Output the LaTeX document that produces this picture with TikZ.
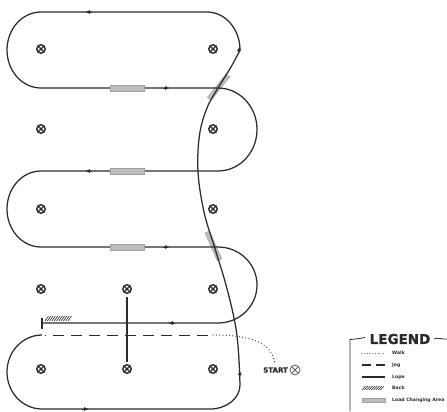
\documentclass[tikz,border=0pt]{standalone}
\usepackage{fontspec}
\setmainfont{DejaVu Sans}
\newfontfamily\heavyfont[FakeBold=1.2]{DejaVu Sans Bold}
\usetikzlibrary{arrows.meta}
\definecolor{ink}{HTML}{2B2B2B}
\definecolor{lca}{HTML}{BDBDBD}
\definecolor{lcaedge}{HTML}{A0A0A0}
\tikzset{
  lope/.style={draw=ink, line width=1.25bp},
  jogline/.style={draw=ink, line width=1.6bp, dash pattern=on 11bp off 7bp},
  walkline/.style={draw=ink!85, line width=1.3bp, line cap=round, dash pattern=on 0.1bp off 3.2bp},
  lcabar/.style={draw=lcaedge, fill=lca, line width=0.4bp},
  tip/.style={-{Latex[length=5bp,width=4bp]}, ink, line width=1bp, shorten >=0pt},
  cone/.style={circle, draw=ink, line width=1.4bp, minimum size=8.5bp, inner sep=0pt,
    path picture={\draw[ink, line width=1.1bp]
      (path picture bounding box.north west) -- (path picture bounding box.south east)
      (path picture bounding box.north east) -- (path picture bounding box.south west);}},
  startcone/.style={circle, draw=ink!75, line width=0.8bp, minimum size=10bp, inner sep=0pt,
    path picture={\draw[ink!75, line width=0.8bp]
      (path picture bounding box.north west) -- (path picture bounding box.south east)
      (path picture bounding box.north east) -- (path picture bounding box.south west);}},
  hatch/.style={draw=ink, line width=0.6bp},
  leglabel/.style={anchor=west, inner sep=0pt, font=\fontsize{4.6bp}{5bp}\selectfont\bfseries, text=ink},
}
\begin{document}
\begin{tikzpicture}[x=1bp,y=-1bp]
\useasboundingbox (0,0) rectangle (447,411);

% cones
\foreach \cx/\cy [count=\i] in {41/49,213/49,41/129,213/129,41/209,213/209,41/289,127/289,213/289,41/369,127/369,213/369}
  \node[cone] (c\i) at (\cx,\cy) {};

% slanted load changing areas (under the lines)
\draw[lcabar] (226,74) -- (229.8,77) -- (211,100.5) -- (207.2,97.5) -- cycle;
\draw[lcabar] (205,233) -- (209.5,231) -- (221.8,259) -- (217.3,261) -- cycle;

% lope path (upper loops)
\path[lope] (240,50) arc[start angle=0, end angle=-90, x radius=33, y radius=38]
  -- (41,12) arc[start angle=270, end angle=90, x radius=34, y radius=38]
  -- (218,88) arc[start angle=-90, end angle=90, x radius=39, y radius=41.5]
  -- (41,171) arc[start angle=270, end angle=90, x radius=34, y radius=38]
  -- (218,247) arc[start angle=-90, end angle=90, x radius=39, y radius=38]
  -- (42,323);
% stop tick
\draw[ink, line width=1.2bp] (42,317.5) -- (42,328.5);
% back hatch
\foreach \h in {0,2.3,...,24}
  \draw[hatch] (45+\h,321) -- (48.5+\h,316);

% bottom loop
\path[lope] (42,335) arc[start angle=270, end angle=90, x radius=35, y radius=37]
  -- (210,409) arc[start angle=90, end angle=0, x radius=30, y radius=24];
% S-curve
\draw[lope] plot[smooth, tension=0.6] coordinates {(240,385) (238.5,352) (235,323) (226,285) (214.5,247) (204,212) (198,172) (199.5,135) (207,108) (218,88) (231,67) (240,50)};

% horizontal load changing areas
\fill[lcabar] (110,85) rectangle (144,91);
\fill[lcabar] (110,168) rectangle (144,174);
\fill[lcabar] (110,244) rectangle (144,250);

% vertical lope line
\draw[ink, line width=1.4bp] (127,297) -- (127,362);

% jog
\draw[jogline] (208,335.5) -- (45,335.5);
% walk
\draw[walkline] (213,335) .. controls (250,335) and (272,342) .. (275,364);

% arrows
\draw[tip] (92,12) -- (85,12);
\draw[tip] (163,88) -- (170,88);
\draw[tip] (92,171) -- (85,171);
\draw[tip] (163,247) -- (170,247);
\draw[tip] (175,323) -- (168,323);
\draw[tip] (82,409) -- (89,409);
\draw[tip] (239.7,378) -- (239.9,370);
\draw[tip] (238.6,54) -- (239.6,46);

% start
\node[startcone] (st) at (295,370) {};
\node[anchor=east, inner sep=0pt, font=\fontsize{7bp}{8bp}\selectfont\heavyfont, text=ink] (stl) at (288,370) {START};

% legend
\node[inner sep=0pt, font=\fontsize{13.5bp}{14bp}\selectfont\heavyfont, text=ink] (leg) at (400,339) {LEGEND};
\draw[ink, line width=0.8bp] (365,337.5) .. controls (360,338.5) and (356,339) .. (350,339.5) -- (350,411);
\draw[ink, line width=0.8bp] (434,339) .. controls (438,337) and (441,339.5) .. (447,339);
\draw[walkline, line width=0.9bp, dash pattern=on 0.1bp off 2.6bp] (362,353) -- (385,353);
\draw[ink, line width=1.3bp] (362,365) -- (371,365) (376,365) -- (385,365);
\draw[ink, line width=1.2bp] (362,377) -- (385,377);
\foreach \h in {0,2.3,...,20}
  \draw[hatch] (362+\h,390) -- (365.5+\h,386);
\fill[lcabar] (362,398) rectangle (385,402);
\node[leglabel] (lw) at (392,353) {Walk};
\node[leglabel] (lj) at (392,365) {Jog};
\node[leglabel] (ll) at (392,377) {Lope};
\node[leglabel] (lb) at (392,388) {Back};
\node[leglabel] (la) at (392,400) {Load Changing Area};
\end{tikzpicture}
\end{document}
